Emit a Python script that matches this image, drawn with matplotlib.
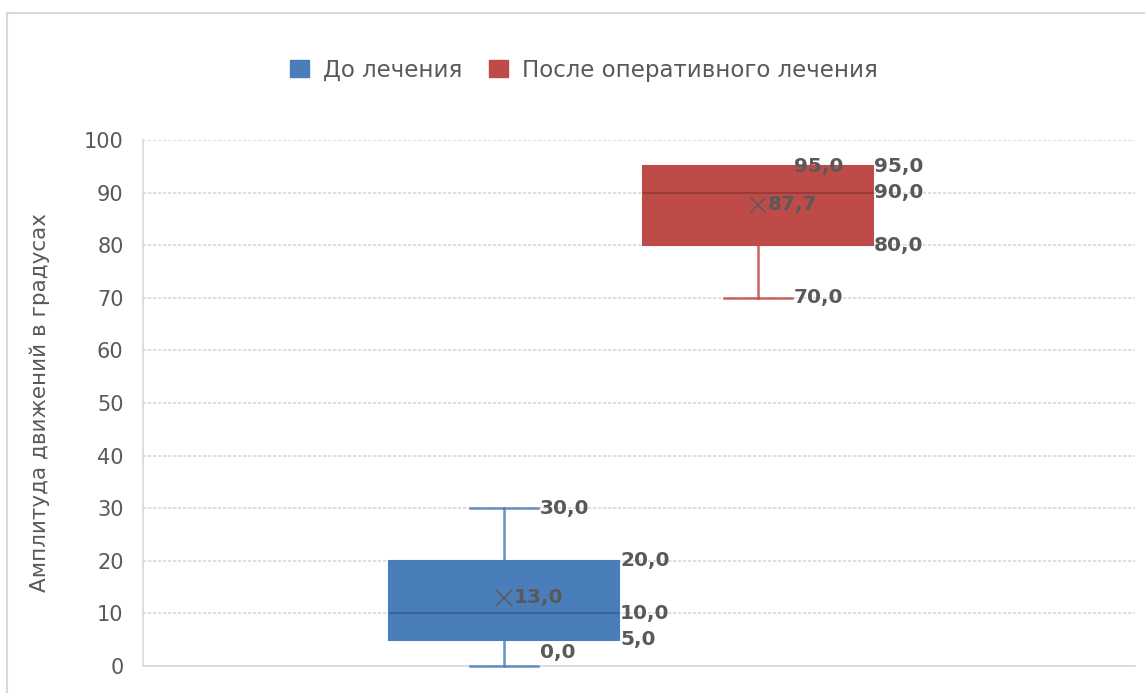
import matplotlib
matplotlib.use("Agg")
import matplotlib.pyplot as plt
from matplotlib.patches import Rectangle

plt.rcParams['font.family'] = ['DejaVu Sans']

series = ["До лечения", "После оперативного лечения"]
colors = ["#4a7ebb", "#be4b48"]
dark = ["#3a6496", "#983b39"]
q1 = [5.0, 80.0]
med = [10.0, 90.0]
q3 = [20.0, 95.0]
whislo = [0.0, 70.0]
whishi = [30.0, 95.0]
means = [13.0, 87.7]
yticks = list(range(0, 101, 10))
ylabel = "Амплитуда движений в градусах"

fig = plt.figure(figsize=(11.45, 6.93), dpi=100)
fig.patches.append(Rectangle((7/1145, -0.1), 1.2, 1 - 13/693 + 0.1, transform=fig.transFigure,
                             fill=False, edgecolor="#d9d9d9", linewidth=1.5))
ax = fig.add_axes([143/1145, 27/693, 992/1145, 526/693])

center = 0.492
width = 0.232
gap = 0.024
capw = 0.068
positions = [center - (width + gap) / 2, center + (width + gap) / 2]

for i in range(2):
    st = dict(med=med[i], q1=q1[i], q3=q3[i], whislo=whislo[i], whishi=whishi[i],
              mean=means[i], fliers=[])
    r = ax.bxp([st], positions=[positions[i]], widths=width, capwidths=capw,
               patch_artist=True, showmeans=True, manage_ticks=False,
               boxprops=dict(facecolor=colors[i], edgecolor=colors[i], linewidth=1.5, zorder=3),
               medianprops=dict(color=dark[i], linewidth=1.5, zorder=4),
               whiskerprops=dict(color=colors[i], linewidth=1.8, alpha=0.85, zorder=2.6),
               capprops=dict(color=colors[i], linewidth=1.8, alpha=0.85, zorder=2.6),
               meanprops=dict(marker="x", markeredgecolor="#5a5a5a", markersize=12,
                              markeredgewidth=1.1, zorder=5))
    for c in r["caps"] + r["whiskers"]:
        c.set_clip_on(False)

lab = dict(fontsize=14.5, color="#595959", fontweight="bold", va="center", ha="left", zorder=6)
fmt = lambda v: f"{v:.1f}".replace(".", ",")
for i in range(2):
    p = positions[i]
    right = p + width / 2 + 0.001
    ax.text(p + capw / 2 + 0.002, whishi[i], fmt(whishi[i]), **lab)
    ax.text(right, q3[i], fmt(q3[i]), **lab)
    ax.text(right, med[i], fmt(med[i]), **lab)
    ax.text(right, q1[i], fmt(q1[i]), **lab)
    lo_off = 2.5 if whislo[i] == 0 else 0
    ax.text(p + capw / 2 + 0.002, whislo[i] + lo_off, fmt(whislo[i]), **lab)
    ax.text(p + 0.01, means[i], fmt(means[i]), **lab)

ax.set_xlim(0, 1)
ax.set_ylim(0, 100)
ax.set_yticks(yticks)
ax.set_xticks([])
ax.grid(axis="y", color="#d9d9d9", linestyle=(0, (2, 1)), linewidth=1.2)
ax.set_axisbelow(True)
for s in ["top", "right"]:
    ax.spines[s].set_visible(False)
for s in ["left", "bottom"]:
    ax.spines[s].set_color("#d9d9d9")
    ax.spines[s].set_linewidth(1.2)
    ax.spines[s].set_zorder(0.5)
ax.tick_params(axis="y", length=0, pad=14, labelsize=15, labelcolor="#595959")
ax.set_ylabel(ylabel, fontsize=15.5, color="#595959", labelpad=24)

handles = [Rectangle((0, 0), 1, 1, facecolor=c, edgecolor=c) for c in colors]
fig.legend(handles, series, loc="center", bbox_to_anchor=(0.51, 1 - 70/693), ncol=2,
           frameon=False, fontsize=16.5, labelcolor="#595959", handlelength=0.8, handleheight=0.8,
           columnspacing=1.2, handletextpad=0.6)

fig.savefig("out.png", dpi=100, facecolor="white")
